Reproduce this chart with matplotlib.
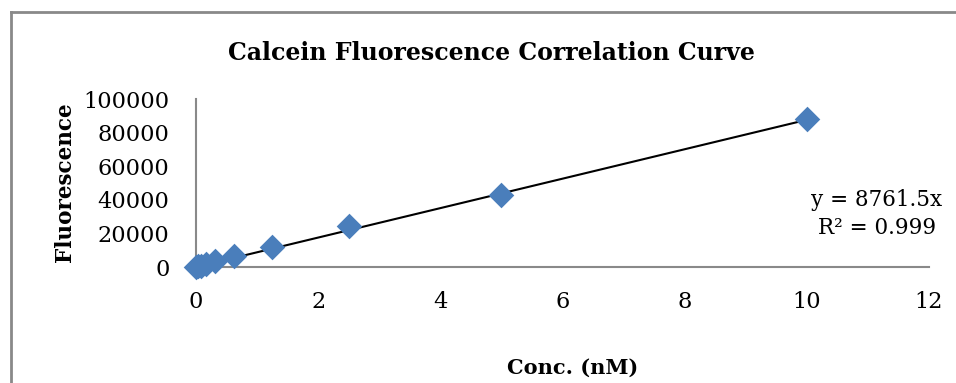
import matplotlib.pyplot as plt
from matplotlib.lines import Line2D

# Datos
conc_nm = [0, 0.039, 0.078, 0.156, 0.3125, 0.625, 1.25, 2.5, 5, 10]
fluorescencia = [0, 400, 800, 1800, 3600, 6500, 11900, 24400, 42900, 88100]
pendiente = 8761.5
r2 = 0.999

fuente = 'DejaVu Serif'
gris = '#898989'

fig = plt.figure(figsize=(9.56, 3.83), dpi=100)
ax = fig.add_axes([196 / 956, 1 - 267 / 383, (929 - 196) / 956, (267 - 99) / 383])

# Línea de tendencia y puntos
x_tend = [0, max(conc_nm)]
y_tend = [pendiente * v for v in x_tend]
ax.plot(x_tend, y_tend, color='black', lw=1.5, zorder=2)
ax.scatter(conc_nm, fluorescencia, marker='D', s=170, color='#4a7ebb',
           zorder=3, clip_on=False, linewidths=0)

ax.set_xlim(0, 12)
ax.set_ylim(0, 100000)
ax.set_xticks(range(0, 13, 2))
ax.set_yticks(range(0, 100001, 20000))
ax.tick_params(length=0, labelsize=16.2)
ax.tick_params(axis='y', pad=19)
ax.tick_params(axis='x', pad=17)
for lab in ax.get_xticklabels() + ax.get_yticklabels():
    lab.set_fontfamily(fuente)

for lado in ['top', 'right']:
    ax.spines[lado].set_visible(False)
for lado in ['left', 'bottom']:
    ax.spines[lado].set_color(gris)
    ax.spines[lado].set_linewidth(1.5)

fig.text(491 / 956, 1 - 53 / 383, 'Calcein Fluorescence Correlation Curve',
         ha='center', va='center', fontsize=17, fontweight='bold', family=fuente)
fig.text(573 / 956, 1 - 368 / 383, 'Conc. (nM)', ha='center', va='center',
         fontsize=15, fontweight='bold', family=fuente)
fig.text(65 / 956, 1 - 182 / 383, 'Fluorescence', ha='center', va='center',
         rotation=90, fontsize=15.5, fontweight='bold', family=fuente)

fig.text(877 / 956, 1 - 200 / 383, 'y = %.1fx' % pendiente, ha='center',
         va='center', fontsize=15.5, family=fuente)
fig.text(877 / 956, 1 - 228 / 383, 'R² = %.3f' % r2, ha='center',
         va='center', fontsize=15.5, family=fuente)

# Marco gris del área del gráfico
fig.add_artist(Line2D([10.5 / 956, 10.5 / 956], [0, 1 - 11.5 / 383],
                      transform=fig.transFigure, color=gris, lw=2))
fig.add_artist(Line2D([10.5 / 956, 1], [1 - 11.5 / 383, 1 - 11.5 / 383],
                      transform=fig.transFigure, color=gris, lw=2))

fig.savefig('out.png', dpi=100)
